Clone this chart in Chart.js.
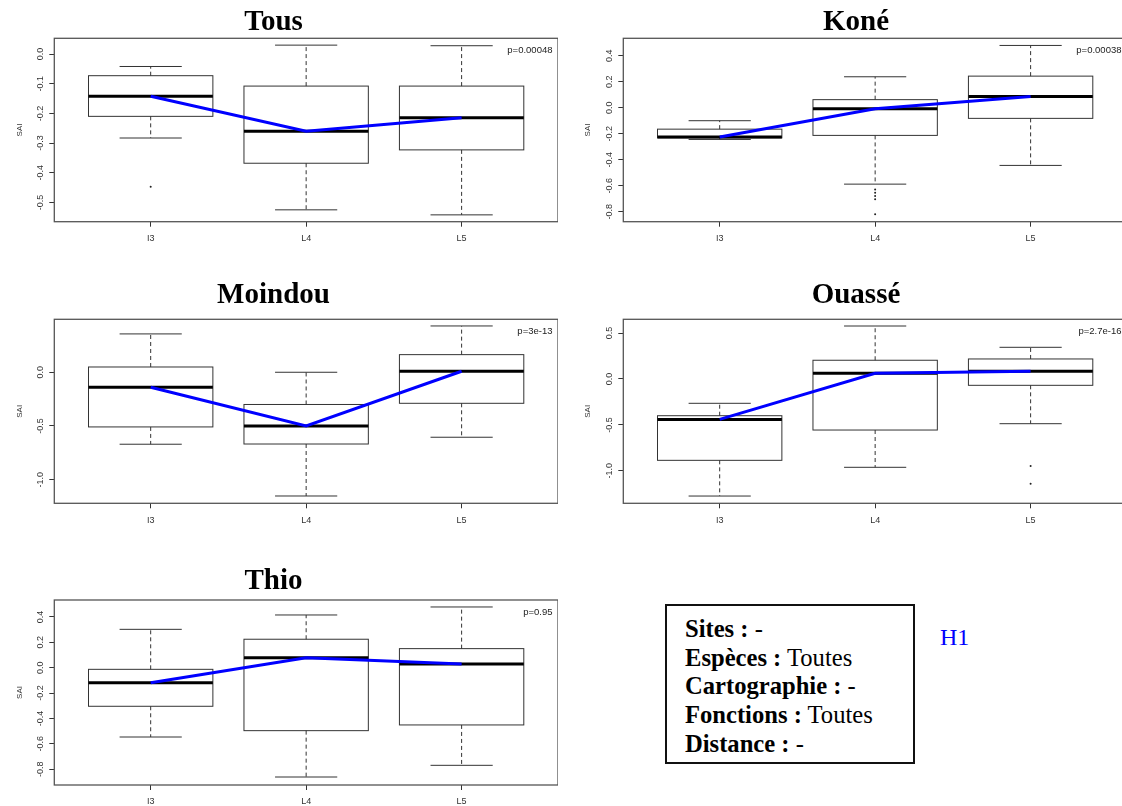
<!DOCTYPE html>
<html lang="fr">
<head>
<meta charset="UTF-8">
<title>SAI par site et par groupe</title>
<script src="https://cdn.jsdelivr.net/npm/chart.js"></script>
<style>
  body {
    margin: 0;
    width: 1122px;
    height: 806px;
    overflow: hidden;
    background: #fff;
    position: relative;
  }
  canvas.panel { position: absolute; }
  .infos {
    position: absolute;
    left: 665px;
    top: 604px;
    width: 250px;
    height: 160px;
    box-sizing: border-box;
    border: 2px solid #111;
    padding: 9px 0 0 18px;
    font-family: 'Liberation Serif', serif;
    font-size: 24.6px;
    line-height: 28.7px;
    color: #000;
  }
  .hyp {
    position: absolute;
    left: 940px;
    top: 625px;
    font-family: 'Liberation Serif', serif;
    font-size: 24px;
    line-height: 24px;
    color: #0000ff;
  }
</style>
</head>
<body>
<canvas class="panel" id="tous"></canvas>
<canvas class="panel" id="kone"></canvas>
<canvas class="panel" id="moindou"></canvas>
<canvas class="panel" id="ouasse"></canvas>
<canvas class="panel" id="thio"></canvas>

<div class="infos">
  <b>Sites :</b> -<br>
  <b>Espèces :</b> Toutes<br>
  <b>Cartographie :</b> -<br>
  <b>Fonctions :</b> Toutes<br>
  <b>Distance :</b> -
</div>
<div class="hyp">H1</div>

<script>
const groups = ['I3', 'L4', 'L5'];

// boxplot stats per group: [lower whisker, Q1, median, Q3, upper whisker]
const tousI3 = [-0.283, -0.210, -0.142, -0.073, -0.042];
const tousL4 = [-0.525, -0.368, -0.260, -0.108, 0.030];
const tousL5 = [-0.542, -0.323, -0.215, -0.108, 0.028];
const tousOut = [[-0.447], [], []];
const tousTicks = [0.0, -0.1, -0.2, -0.3, -0.4, -0.5];
const tousRange = [-0.565, 0.053];

const koneI3 = [-0.244, -0.232, -0.226, -0.165, -0.100];
const koneL4 = [-0.588, -0.213, -0.008, 0.062, 0.238];
const koneL5 = [-0.444, -0.082, 0.087, 0.243, 0.479];
const koneOut = [[], [-0.630, -0.655, -0.680, -0.705, -0.820], []];
const koneTicks = [0.4, 0.2, 0.0, -0.2, -0.4, -0.6, -0.8];
const koneRange = [-0.877, 0.534];

const moindouI3 = [-0.670, -0.509, -0.140, 0.049, 0.357];
const moindouL4 = [-1.152, -0.668, -0.500, -0.300, 0.000];
const moindouL5 = [-0.605, -0.289, 0.009, 0.164, 0.431];
const moindouOut = [[], [], []];
const moindouTicks = [0.0, -0.5, -1.0];
const moindouRange = [-1.220, 0.493];

const ouasseI3 = [-1.275, -0.886, -0.440, -0.400, -0.265];
const ouasseL4 = [-0.962, -0.556, 0.062, 0.204, 0.577];
const ouasseL5 = [-0.487, -0.069, 0.084, 0.218, 0.345];
const ouasseOut = [[], [], [-0.948, -1.140]];
const ouasseTicks = [0.5, 0.0, -0.5, -1.0];
const ouasseRange = [-1.354, 0.650];

const thioI3 = [-0.546, -0.304, -0.118, -0.013, 0.302];
const thioL4 = [-0.861, -0.496, 0.079, 0.224, 0.415];
const thioL5 = [-0.769, -0.451, 0.029, 0.150, 0.478];
const thioOut = [[], [], []];
const thioTicks = [0.4, 0.2, 0.0, -0.2, -0.4, -0.6, -0.8];
const thioRange = [-0.924, 0.533];

const pValues = ['p=0.00048', 'p=0.00038', 'p=3e-13', 'p=2.7e-16', 'p=0.95'];

Chart.defaults.font.family = "'Liberation Sans', Arial, sans-serif";
Chart.defaults.color = '#333';

// draws the boxes, whiskers, medians, plot frame and the p-value
function boxplotPlugin(stats, pText) {
    return {
        id: 'boxplot',
        beforeDatasetsDraw(chart) {
            const {ctx, chartArea: a, scales: {x, y}} = chart;
            ctx.save();
            stats.forEach((s, i) => {
                const [lo, q1, med, q3, hi] = s;
                const cx = x.getPixelForValue(i + 1);
                const half = x.getPixelForValue(i + 1.4) - cx;
                const cap = x.getPixelForValue(i + 1.2) - cx;
                const yLo = y.getPixelForValue(lo), yQ1 = y.getPixelForValue(q1);
                const yQ3 = y.getPixelForValue(q3), yHi = y.getPixelForValue(hi);

                ctx.strokeStyle = '#333';
                ctx.lineWidth = 1;
                ctx.setLineDash([4, 3]);
                ctx.beginPath();
                ctx.moveTo(cx, yQ3); ctx.lineTo(cx, yHi);
                ctx.moveTo(cx, yQ1); ctx.lineTo(cx, yLo);
                ctx.stroke();
                ctx.setLineDash([]);

                ctx.beginPath();
                ctx.moveTo(cx - cap, yHi); ctx.lineTo(cx + cap, yHi);
                ctx.moveTo(cx - cap, yLo); ctx.lineTo(cx + cap, yLo);
                ctx.stroke();

                ctx.strokeRect(cx - half, yQ3, 2 * half, yQ1 - yQ3);

                const yMed = y.getPixelForValue(med);
                ctx.strokeStyle = '#000';
                ctx.lineWidth = 3;
                ctx.beginPath();
                ctx.moveTo(cx - half, yMed); ctx.lineTo(cx + half, yMed);
                ctx.stroke();
            });
            ctx.lineWidth = 1.3;
            ctx.strokeStyle = '#555';
            ctx.strokeRect(a.left, a.top, a.right - a.left, a.bottom - a.top);
            ctx.restore();
        },
        afterDatasetsDraw(chart) {
            const {ctx, chartArea: a} = chart;
            ctx.save();
            ctx.font = "9.5px 'Liberation Sans', Arial, sans-serif";
            ctx.fillStyle = '#222';
            ctx.textAlign = 'right';
            ctx.textBaseline = 'middle';
            ctx.fillText(pText, a.right - 5.5, a.top + 12.4);
            ctx.restore();
        }
    };
}

function drawPanel(p) {
    const canvas = document.getElementById(p.id);
    canvas.width = p.w;
    canvas.height = p.h;
    canvas.style.left = p.left + 'px';
    canvas.style.top = p.top + 'px';

    const medians = p.stats.map((s, i) => ({x: i + 1, y: s[2]}));
    const outliers = [];
    p.outliers.forEach((list, i) => list.forEach(v => outliers.push({x: i + 1, y: v})));

    return new Chart(canvas.getContext('2d'), {
        type: 'line',
        data: {
            datasets: [
                {
                    data: medians,
                    borderColor: '#0000ff',
                    borderWidth: 3,
                    pointRadius: 0,
                    tension: 0
                },
                {
                    data: outliers,
                    showLine: false,
                    pointRadius: 1,
                    pointBorderWidth: 0,
                    pointBackgroundColor: '#222'
                }
            ]
        },
        options: {
            responsive: false,
            animation: false,
            events: [],
            layout: { padding: 0, autoPadding: false },
            plugins: {
                legend: { display: false },
                tooltip: { enabled: false },
                title: {
                    display: true,
                    text: p.title,
                    color: '#000',
                    font: { family: "'Liberation Serif', 'Times New Roman', serif", size: 29, weight: 'bold', lineHeight: 1 },
                    padding: { top: p.titlePad[0], bottom: p.titlePad[1] }
                }
            },
            scales: {
                x: {
                    type: 'linear',
                    min: 0.38,
                    max: 3.62,
                    afterBuildTicks: s => { s.ticks = groups.map((g, i) => ({value: i + 1})); },
                    afterFit: s => { s.height = p.h - p.frameBottom; },
                    border: { display: false },
                    grid: { drawOnChartArea: false, tickLength: 5, tickColor: '#333' },
                    ticks: {
                        padding: 6.5,
                        font: { size: 9 },
                        color: '#333',
                        maxRotation: 0,
                        autoSkip: false,
                        callback: v => groups[v - 1]
                    }
                },
                y: {
                    type: 'linear',
                    min: p.range[0],
                    max: p.range[1],
                    afterBuildTicks: s => { s.ticks = p.ticks.map(v => ({value: v})); },
                    afterFit: s => { s.width = p.yWidth; },
                    border: { display: false },
                    grid: { drawOnChartArea: false, tickLength: 5, tickColor: '#333' },
                    ticks: {
                        minRotation: 90,
                        maxRotation: 90,
                        crossAlign: 'center',
                        padding: 1,
                        autoSkip: false,
                        font: { size: 9 },
                        color: '#333',
                        callback: v => v.toFixed(1)
                    },
                    title: {
                        display: true,
                        text: 'SAI',
                        color: '#333',
                        font: { size: 8, lineHeight: 1.2 },
                        padding: { top: p.saiPad, bottom: 0 }
                    }
                }
            }
        },
        plugins: [boxplotPlugin(p.stats, p.pText)]
    });
}

// left column: canvas -11..558, right column: canvas 585..1127 (frame runs past the page edge)
const leftCol = { left: -11, w: 569, yWidth: 65.3, saiPad: 25.6 };
const rightCol = { left: 585, w: 542, yWidth: 38.3, saiPad: -2.1 };

const panels = [
    { ...leftCol, id: 'tous', title: 'Tous', top: 0, h: 252, frameBottom: 221.7, titlePad: [8.4, 0.9],
      stats: [tousI3, tousL4, tousL5], outliers: tousOut, ticks: tousTicks, range: tousRange, pText: pValues[0] },
    { ...rightCol, id: 'kone', title: 'Koné', top: 0, h: 252, frameBottom: 221.7, titlePad: [8.4, 0.9],
      stats: [koneI3, koneL4, koneL5], outliers: koneOut, ticks: koneTicks, range: koneRange, pText: pValues[1] },
    { ...leftCol, id: 'moindou', title: 'Moindou', top: 280, h: 253, frameBottom: 223.3, titlePad: [0.7, 9.6],
      stats: [moindouI3, moindouL4, moindouL5], outliers: moindouOut, ticks: moindouTicks, range: moindouRange, pText: pValues[2] },
    { ...rightCol, id: 'ouasse', title: 'Ouassé', top: 280, h: 253, frameBottom: 223.3, titlePad: [0.7, 9.6],
      stats: [ouasseI3, ouasseL4, ouasseL5], outliers: ouasseOut, ticks: ouasseTicks, range: ouasseRange, pText: pValues[3] },
    { ...leftCol, id: 'thio', title: 'Thio', top: 562, h: 253, frameBottom: 223, titlePad: [5.4, 3.6],
      stats: [thioI3, thioL4, thioL5], outliers: thioOut, ticks: thioTicks, range: thioRange, pText: pValues[4] }
];

window.addEventListener('load', () => {
    panels.forEach(drawPanel);
});
</script>
</body>
</html>
